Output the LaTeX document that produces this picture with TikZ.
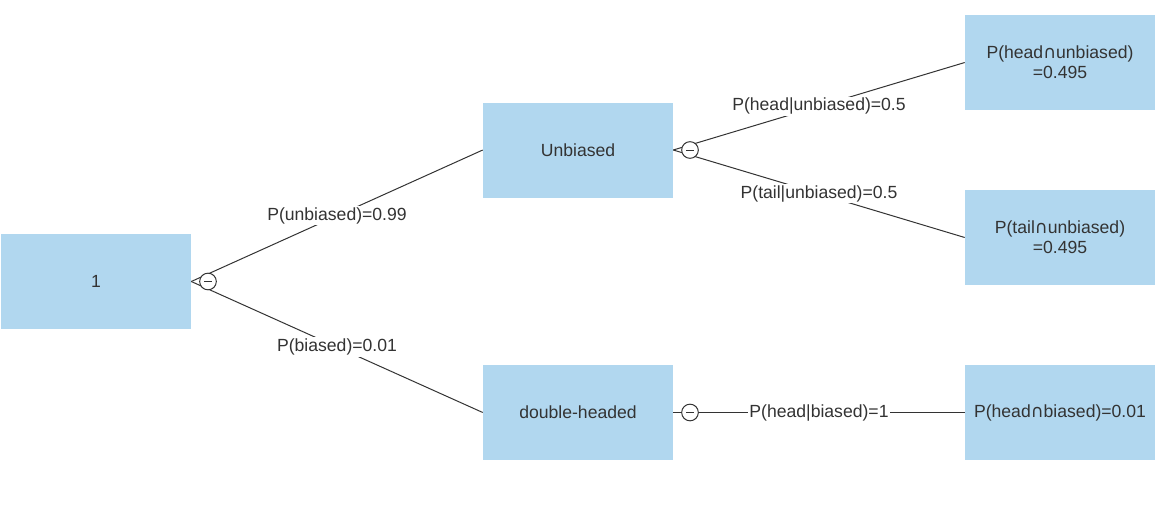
\documentclass[tikz,border=0pt]{standalone}
\usepackage{fontspec}
\setmainfont{Liberation Sans}
\newfontfamily\djv{DejaVu Sans}
\definecolor{boxblue}{HTML}{B1D7EF}
\definecolor{ink}{HTML}{333333}
\newcommand{\capsym}{{\djv ∩}}
\begin{document}
\begin{tikzpicture}[x=0.75pt,y=-0.75pt,
  box/.style={fill=boxblue,draw=none,minimum width=142.5pt,minimum height=71.25pt,inner sep=0pt,align=center,text=ink,font=\fontsize{13.2}{15}\selectfont},
  conn/.style={draw=ink,line width=0.75pt},
  lbl/.style={fill=white,inner sep=1pt,text=ink,font=\fontsize{13.2}{15}\selectfont},
  tog/.style={circle,draw=ink,fill=white,line width=0.75pt,minimum size=12.5pt,inner sep=0pt}]
\useasboundingbox (0,0) rectangle (1168,515);
\node[box] (root) at (96,281.5) {1};
\node[box] (unb) at (578,150) {Unbiased};
\node[box] (dbl) at (578,412.5) {double-headed};
\node[box] (hu) at (1060,62.5) {P(head\capsym unbiased)\\=0.495};
\node[box] (tu) at (1060,237.5) {P(tail\capsym unbiased)\\=0.495};
\node[box] (hb) at (1060,412.5) {P(head\capsym biased)=0.01};
\draw[conn] (root.east) -- node[lbl] {P(unbiased)=0.99} (unb.west);
\draw[conn] (root.east) -- node[lbl] {P(biased)=0.01} (dbl.west);
\draw[conn] (unb.east) -- node[lbl] {P(head|unbiased)=0.5} (hu.west);
\draw[conn] (unb.east) -- node[lbl] {P(tail|unbiased)=0.5} (tu.west);
\draw[conn] (dbl.east) -- node[lbl] {P(head|biased)=1} (hb.west);
\node[tog] (t1) at (208,281.5) {};
\node[tog] (t2) at (690,150) {};
\node[tog] (t3) at (690,412.5) {};
\foreach \t in {t1,t2,t3}{\draw[ink,line width=0.75pt] ([xshift=-2.8pt]\t.center) -- ([xshift=2.8pt]\t.center);}
\end{tikzpicture}
\end{document}
